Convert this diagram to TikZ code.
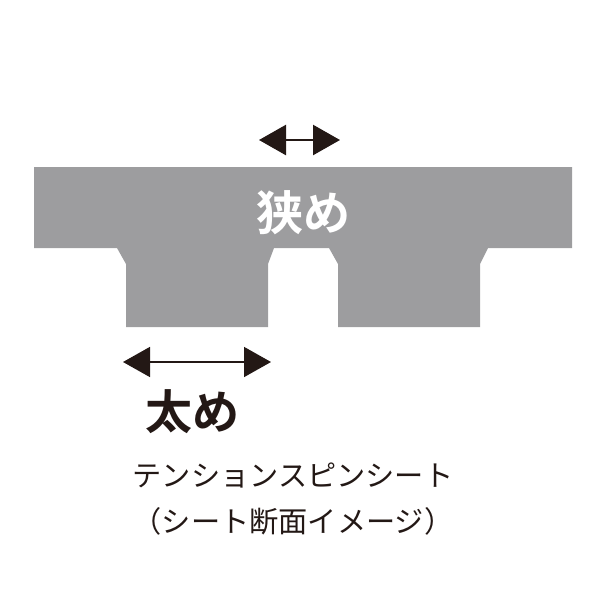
\documentclass[tikz,border=0pt]{standalone}
\usepackage{fontspec}
\newfontfamily\jp{Noto Sans CJK JP}
\newfontfamily\jpbold{Noto Sans CJK JP}[UprightFont={* Bold}]
\usetikzlibrary{arrows.meta}
\definecolor{sheetgray}{RGB}{157,157,159}
\definecolor{inkblack}{RGB}{35,24,21}

\begin{document}
\begin{tikzpicture}[x=1pt,y=-1pt, width arrow/.style={{Triangle[length=27pt,width=30pt]}-{Triangle[length=27pt,width=30pt]},draw=inkblack,fill=inkblack,line width=2pt}, big label/.style={font=\jpbold\fontsize{47}{47}\selectfont,inner sep=0pt}, caption/.style={font=\jp\fontsize{29.2}{46}\selectfont,text=inkblack,align=center,inner sep=0pt}]

  \useasboundingbox (0,0) rectangle (600,600);

  % sheet section
  \fill[sheetgray] (34,167) -- (572,167) -- (572,248) -- (488,248) -- (480,264) -- (480,327)
    -- (338,327) -- (338,264) -- (329,248) -- (274,248) -- (268,264) -- (268,327)
    -- (126,327) -- (126,264) -- (117,248) -- (34,248) -- cycle;

  \node[big label,text=white] (narrow) at (303,213) {狭め};
  \node[big label,text=inkblack] (wide) at (192,412) {太め};
  \node[caption] (title) at (293,499) {テンションスピンシート\\（シート断面イメージ）};

  \coordinate (n1) at (259,140);
  \coordinate (n2) at (340,140);
  \coordinate (w1) at (123,362);
  \coordinate (w2) at (271,362);

  \draw[width arrow,line width=2.5pt] (n1) -- (n2);
  \draw[width arrow,line width=1.6pt] (w1) -- (w2);
\end{tikzpicture}
\end{document}
